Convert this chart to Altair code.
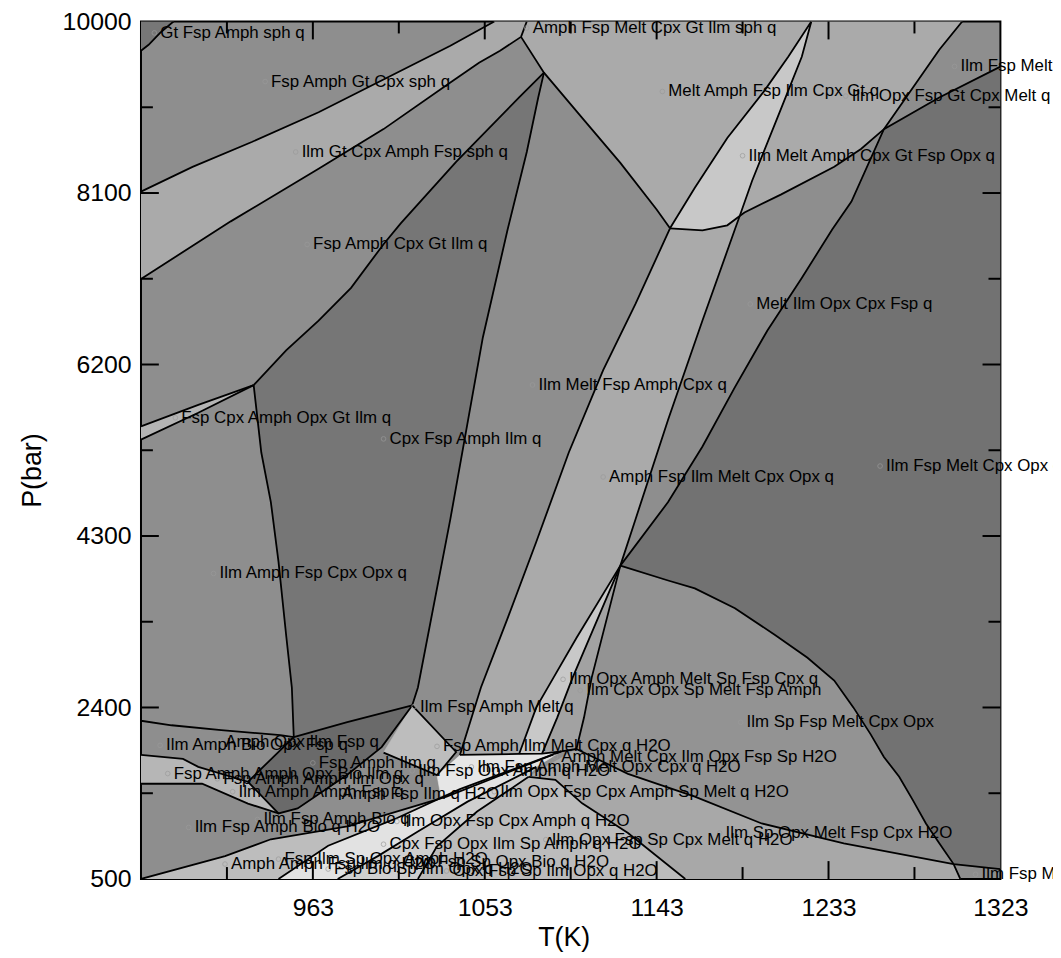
import altair as alt
import pandas as pd

T_RANGE = [873, 1323]
P_RANGE = [500, 10000]
T_LABELS = [963, 1053, 1143, 1233, 1323]
P_LABELS = [500, 2400, 4300, 6200, 8100, 10000]
T_MINOR = [918, 1008, 1098, 1188, 1278]
P_MINOR = [1450, 3350, 5250, 7150, 9050]

# ---- nodes (T K, P bar)
N1 = (1072, 9830)
N2 = (1084, 9434)
N3 = (1124, 3972)
N4 = (932, 5972)
N5 = (1262, 8808)
N6 = (1015, 2423)
N7 = (953, 2072)
VB = (1150, 7709)
FG = (1186.5, 7846)
HI = (1298.5, 665)
HUB = (1093, 1913)

# ---- boundary curves
corner = [(873, 9676), (877, 9742), (883, 9874), (890, 10000)]
band_up = [(873, 8115), (900, 8390), (931, 8665), (966, 8995), (1000, 9357), (1035, 9731), (1058, 10000)]
band_low = [(873, 7148), (920, 7786), (966, 8368), (1000, 8808), (1035, 9324), (1050, 9544), (1061, 9676), N1]
n1_top = [N1, (1075, 10000)]
v_left = [N1, N2, (1105, 8907), (1124, 8434), (1143, 7917), VB]
dark1_left = [N4, (949, 6357), (966, 6687), (983, 7049), (1000, 7533), (1009, 7764), (1038, 8445), (1071, 9159), N2]
dark1_right = [N2, (1081, 9159), (1075, 8555), (1065, 7698), (1052, 6500), (1035, 4489), (1018, 2621), N6]
thin_up = [(873, 5514), (903, 5753), N4]
thin_low = [(873, 5368), (903, 5665), N4]
dark1_lower = [N4, (936, 5225), (941, 4676), (945, 4016), (949, 3203), (952, 2621), N7]
dark_bottom = [N7, (981, 2237), N6]
e_arm = [VB, (1163, 8159), (1180, 8709), (1199, 9221), (1212, 9613), (1224, 10000)]
f_a = [N3, (1132, 4489), (1149, 5588), (1167, 6687), (1184, 7698), FG]
f_b = [FG, (1193, 8236), (1208, 9027), (1219, 9610), (1224, 10000)]
d_a = [N3, (1149, 4676), (1167, 5291), (1184, 5950), (1201, 6577), (1219, 7159), (1235, 7698), (1245, 8006), N5]
d_b = [N5, (1291, 9687), (1303, 10000)]
g_a = [VB, (1167, 7687), (1180, 7742), FG]
g_b = [FG, (1189, 7885), (1208, 8082), (1236, 8390), (1250, 8588), N5]
g_c = [N5, (1291, 9159), (1323, 9500)]
b_upper = [VB, (1132, 6874), (1115, 6137), (1097, 5225), (1080, 4236), (1065, 3390), (1051, 2621), (1040, 1874)]
s1 = [N3, (1101, 3170), (1089, 2731), (1080, 2401), (1071, 1885)]
s2 = [N3, (1099, 2731), (1091, 2291), (1083, 1888)]
s3 = [N3, (1109, 2731), (1105, 2291), (1101, 1940)]
h_curve = [N3, (1149, 3807), (1163, 3720), (1184, 3500), (1205, 3203), (1222, 2951), (1236, 2698), (1246, 2401),
           (1255, 2105), (1262, 1852), (1270, 1632), (1277, 1379), (1284, 1115), (1291, 895), HI, (1302, 500)]
i_line = [(1101, 1940), (1128, 1665), (1163, 1412), (1198, 1115), (1241, 895), HI, (1323, 610)]
l_line = [(1076, 1632), (1090, 1599), (1104, 1338), (1128, 1009), (1158, 500)]
bl1_top = [(873, 2253), (889, 2203), (915, 2148), (946, 2094), N7]
bl_dark_edge = [N6, (999, 1961), (981, 1654), (955, 1281), (945, 1226), (929, 1577), N7]
bl_light_top = [(873, 1874), (895, 1830), (903, 1742), (929, 1577)]
bl_light_low = [(873, 1555), (905, 1555), (929, 1335), (945, 1226)]
fanA = [HUB, (1033, 1412), (981, 1083), (941, 940), (917, 753), (873, 500)]
fanB = [HUB, (1040, 1495), (1006, 1165), (971, 868), (945, 500)]
fanC = [(1080, 1742), (1044, 1357), (1018, 1027), (997, 753), (976, 500)]
fanD = [(1076, 1632), (1049, 1247), (1028, 862), (1018, 500)]
w1_edge = [(1040, 1874), (1071, 1885), (1083, 1888), HUB, (1101, 1940)]
melt_tri = [N6, (1038, 1907), (1028, 1650), (1000, 1900)]


def rev(seq):
    return list(seq)[::-1]


LINES = [corner, band_up, band_low, n1_top, v_left, dark1_left, dark1_right, thin_up, thin_low,
         dark1_lower, dark_bottom, e_arm, f_a + f_b[1:], d_a + d_b[1:], g_a + g_b[1:] + g_c[1:],
         b_upper, s1, s2, s3, h_curve, i_line, l_line, bl1_top, bl_dark_edge, bl_light_top,
         bl_light_low, fanA, fanB, fanC, fanD, w1_edge, melt_tri]

POLYS = [
    ("#777777", corner + [(873, 10000)]),
    ("#aaaaaa", band_up + rev(n1_top) + rev(band_low)),
    ("#b4b4b4", thin_up + rev(thin_low)),
    ("#767676", dark1_left + dark1_right + rev(dark_bottom) + rev(dark1_lower)),
    ("#aaaaaa", n1_top + rev(e_arm) + rev(v_left)),
    ("#c8c8c8", g_a + f_b[1:] + rev(e_arm)),
    ("#aaaaaa", f_b + [(1303, 10000)] + rev(d_b) + rev(g_b)),
    ("#aaaaaa", b_upper + [(1071, 1885)] + rev(s1) + f_a + rev(g_a)),
    ("#c8c8c8", s1 + rev(s2)),
    ("#a2a2a2", s2 + rev(s3)),
    ("#939393", h_curve[:15] + rev(i_line[:6]) + rev(s3)),
    ("#727272", d_a + g_c + [(1323, 610), HI] + rev(h_curve)),
    ("#a8a8a8", i_line[:-1] + [(1302, 500), (1158, 500)] + rev(l_line) + [(1101, 1940)]),
    ("#6a6a6a", dark_bottom + bl_dark_edge[1:]),
    ("#b6b6b6", bl_light_top + rev(bl_light_low) + [(873, 1874)]),
    ("#bdbdbd", fanA + [(945, 500)] + rev(fanB)),
    ("#e2e2e2", fanB + [(976, 500)] + rev(fanC) + [HUB]),
    ("#cfcfcf", fanC + [(1018, 500)] + rev(fanD)),
    ("#bcbcbc", fanD + [(1158, 500)] + rev(l_line)),
    ("#e6e6e6", [(1040, 1874), (1071, 1885), (1083, 1888), HUB, (1040, 1495), (1030, 1420), (1028, 1650)]),
    ("#bdbdbd", melt_tri + [N6]),
]

LABELS = [
    ("Gt Fsp Amph sph q", 880, 9874),
    ("Fsp Amph Gt Cpx sph q", 938, 9335),
    ("Ilm Gt Cpx Amph Fsp sph q", 954, 8555),
    ("Amph Fsp Melt Cpx Gt Ilm sph q", 1075, 9929),
    ("Melt Amph Fsp Ilm Cpx Gt q", 1146, 9225),
    ("Ilm Opx Fsp Gt Cpx Melt q", 1242, 9174),
    ("Ilm Fsp Melt Cpx Gt q", 1299, 9503),
    ("Ilm Melt Amph Cpx Gt Fsp Opx q", 1188, 8513),
    ("Fsp Amph Cpx Gt Ilm q", 960, 7530),
    ("Melt Ilm Opx Cpx Fsp q", 1192, 6870),
    ("Ilm Melt Fsp Amph Cpx q", 1078, 5973),
    ("Fsp Cpx Amph Opx Gt Ilm q", 891, 5610),
    ("Cpx Fsp Amph Ilm q", 1000, 5376),
    ("Amph Fsp Ilm Melt Cpx Opx q", 1115, 4954),
    ("Ilm Fsp Melt Cpx Opx q", 1260, 5075),
    ("Ilm Amph Fsp Cpx Opx q", 911, 3885),
    ("Ilm Opx Amph Melt Sp Fsp Cpx q", 1094, 2712),
    ("Ilm Cpx Opx Sp Melt Fsp Amph", 1103, 2588),
    ("Ilm Sp Fsp Melt Cpx Opx", 1187, 2236),
    ("Ilm Fsp Amph Melt q", 1016, 2410),
    ("Fsp Amph Ilm Melt Cpx q H2O", 1028, 1969),
    ("Amph Melt Cpx Ilm Opx Fsp Sp H2O", 1090, 1852),
    ("Ilm Fsp Opx Amph q H2O", 1015, 1698),
    ("Ilm Fsp Amph Melt Opx Cpx q H2O", 1046, 1742),
    ("Ilm Opx Fsp Cpx Amph Sp Melt q H2O", 1058, 1467),
    ("Ilm Opx Fsp Cpx Amph q H2O", 1007, 1137),
    ("Cpx Fsp Opx Ilm Sp Amph q H2O", 1000, 885),
    ("Ilm Opx Fsp Sp Cpx Melt q H2O", 1085, 936),
    ("Ilm Sp Opx Melt Fsp Cpx H2O", 1176, 1009),
    ("Ilm Fsp Melt Cpx Opx H2O", 1310, 552),
    ("Ilm Amph Bio Opx Fsp q", 883, 1980),
    ("Amph Opx Ilm Fsp q", 914, 2017),
    ("Fsp Amph Amph Opx Bio Ilm q", 887, 1668),
    ("Fsp Amph Ilm q", 963, 1786),
    ("Fsp Amph Amph Ilm Opx q", 913, 1610),
    ("Ilm Amph Amph Fsp q", 921, 1467),
    ("Amph Fsp Ilm q H2O", 975, 1445),
    ("Ilm Fsp Amph Bio q", 934, 1159),
    ("Ilm Fsp Amph Bio q H2O", 898, 1071),
    ("Amph Amph Fsp Ilm q H2O", 917, 665),
    ("Fsp Ilm Sp Opx Amph H2O", 945, 720),
    ("Cpx Fsp Sp Opx Bio q H2O", 1007, 687),
    ("Fsp Bio Sp Ilm Opx q H2O", 971, 610),
    ("Opx Fsp Sp Ilm Opx q H2O", 1033, 588),
]

# ---- tables
poly_rows = []
for k, (col, pts) in enumerate(POLYS):
    for j, (t, p) in enumerate(pts):
        poly_rows.append({"poly": k, "i": j, "T": t, "P": p, "fill": col})
poly_df = pd.DataFrame(poly_rows)

line_rows = []
for k, pts in enumerate(LINES):
    for j, (t, p) in enumerate(pts):
        line_rows.append({"line": k, "i": j, "T": t, "P": p})
line_df = pd.DataFrame(line_rows)

lab_df = pd.DataFrame(LABELS, columns=["text", "T", "P"])

W, H = 866, 864
xs = alt.Scale(domain=T_RANGE, nice=False, zero=False)
ys = alt.Scale(domain=P_RANGE, nice=False, zero=False)
X = alt.X("T:Q", scale=xs, axis=alt.Axis(values=T_LABELS, format="d", ticks=False, domain=False, grid=False,
                                          labelFontSize=25, labelFlush=False, labelPadding=17,
                                          title="T(K)", titleFontSize=27, titlePadding=4,
                                          titleFontWeight="normal", titleX=426))
Y = alt.Y("P:Q", scale=ys, axis=alt.Axis(values=P_LABELS, format="d", ticks=False, domain=False, grid=False,
                                          labelFontSize=25, labelFlush=False, labelPadding=10,
                                          title="P(bar)", titleFontSize=27, titlePadding=16,
                                          titleFontWeight="normal", titleY=452))

polys = alt.Chart(poly_df).mark_line(strokeWidth=0.6, clip=True, interpolate="linear").encode(
    x=X, y=Y, order="i:Q", detail="poly:N",
    fill=alt.Fill("fill:N", scale=None), stroke=alt.Stroke("fill:N", scale=None))

lines = alt.Chart(line_df).mark_line(color="black", strokeWidth=1.8, clip=True).encode(
    x="T:Q", y="P:Q", order="i:Q", detail="line:N")

tdf = pd.DataFrame({"T": T_LABELS[:-1]})
tmin = pd.DataFrame({"T": T_MINOR})
pdf_ = pd.DataFrame({"P": P_LABELS[1:-1]})
pmin = pd.DataFrame({"P": P_MINOR})
tick_parts = []
for d, L in ((tdf, 18), (tmin, 12)):
    tick_parts.append(alt.Chart(d).mark_rule(color="black", strokeWidth=2).encode(
        x="T:Q", y=alt.value(H), y2=alt.value(H - L)))
    tick_parts.append(alt.Chart(d).mark_rule(color="black", strokeWidth=2).encode(
        x="T:Q", y=alt.value(0), y2=alt.value(L)))
for d, L in ((pdf_, 18), (pmin, 12)):
    tick_parts.append(alt.Chart(d).mark_rule(color="black", strokeWidth=2).encode(
        y="P:Q", x=alt.value(0), x2=alt.value(L)))
    tick_parts.append(alt.Chart(d).mark_rule(color="black", strokeWidth=2).encode(
        y="P:Q", x=alt.value(W), x2=alt.value(W - L)))

dots = alt.Chart(lab_df).mark_point(shape="circle", size=22, filled=False, color="#9a9a9a",
                                    strokeWidth=1).encode(x="T:Q", y="P:Q")
texts = alt.Chart(lab_df).mark_text(align="left", baseline="middle", dx=6, fontSize=17,
                                    font="Liberation Sans", color="#000000").encode(
    x="T:Q", y="P:Q", text="text:N")

chart = alt.layer(polys, lines, *tick_parts, dots, texts).properties(
    width=W, height=H, autosize=alt.AutoSizeParams(type="none"),
    padding={"left": 134, "top": 10, "right": 53, "bottom": 76},
).configure_view(fill="#8e8e8e", stroke="black", strokeWidth=2).configure_axis(
    labelFont="Liberation Sans", titleFont="Liberation Sans", labelColor="black", titleColor="black")

chart.save("out.html", embed_options={"renderer": "svg", "actions": False})
